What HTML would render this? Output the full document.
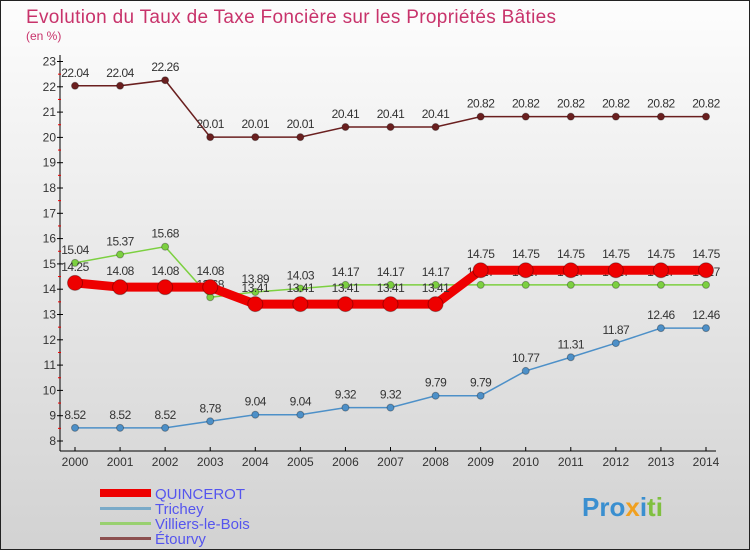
<!DOCTYPE html>
<html><head><meta charset="utf-8"><style>
body{margin:0}
svg text{font-family:"Liberation Sans",sans-serif}
</style></head><body>
<svg width="750" height="550" viewBox="0 0 750 550" xmlns="http://www.w3.org/2000/svg">
<defs><linearGradient id="bg" x1="0" y1="0" x2="0" y2="1"><stop offset="0" stop-color="#fdfdfd"/><stop offset="1" stop-color="#d2d2d2"/></linearGradient></defs>
<rect x="0.5" y="0.5" width="749" height="549" fill="url(#bg)" stroke="#222"/>
<text x="26" y="23" font-size="19" textLength="530" fill="#c8336b">Evolution du Taux de Taxe Foncière sur les Propriétés Bâties</text>
<text x="26" y="40" font-size="12" fill="#c8336b">(en %)</text>
<g id="axes"></g>
<g id="series"></g>
<g>
<rect x="100" y="489" width="51" height="8" fill="#e00"/>
<text x="155" y="499" font-size="15" fill="#5555ee">QUINCEROT</text>
<rect x="100" y="507" width="51" height="3" fill="#7aaac8"/>
<text x="155" y="514" font-size="15" fill="#5555ee">Trichey</text>
<rect x="100" y="522" width="51" height="3" fill="#99d070"/>
<text x="155" y="529" font-size="15" fill="#5555ee">Villiers-le-Bois</text>
<rect x="100" y="537" width="51" height="3" fill="#8c5050"/>
<text x="155" y="544" font-size="15" fill="#5555ee">Étourvy</text>
</g>
<text x="582" y="516" font-size="26" font-weight="bold" fill="#3a8fd0">Pro<tspan fill="#f0a020">x</tspan><tspan fill="#3a8fd0">i</tspan><tspan fill="#80c040">ti</tspan></text>
</svg>
<script>
const years=[2000,2001,2002,2003,2004,2005,2006,2007,2008,2009,2010,2011,2012,2013,2014];
const yTicks=[8,9,10,11,12,13,14,15,16,17,18,19,20,21,22,23];
const quincerot=[14.25,14.08,14.08,14.08,13.41,13.41,13.41,13.41,13.41,14.75,14.75,14.75,14.75,14.75,14.75];
const trichey=[8.52,8.52,8.52,8.78,9.04,9.04,9.32,9.32,9.79,9.79,10.77,11.31,11.87,12.46,12.46];
const villiers=[15.04,15.37,15.68,13.68,13.89,14.03,14.17,14.17,14.17,14.17,14.17,14.17,14.17,14.17,14.17];
const etourvy=[22.04,22.04,22.26,20.01,20.01,20.01,20.41,20.41,20.41,20.82,20.82,20.82,20.82,20.82,20.82];
const NS='http://www.w3.org/2000/svg';
const xs=i=>75+i*(706-75)/(years.length-1);
const ys=v=>441-(v-8)*25.3;
function mk(t,a,p){const e=document.createElementNS(NS,t);for(const k in a)e.setAttribute(k,a[k]);p.appendChild(e);return e;}
const ax=document.getElementById('axes');
let l=mk('line',{x1:60,y1:55,x2:60,y2:451,stroke:'#000'},ax);


l=mk('line',{x1:60,y1:451,x2:716,y2:451,stroke:'#000'},ax);


yTicks.forEach(v=>{
 mk('line',{x1:57,y1:ys(v),x2:63,y2:ys(v),stroke:'#000'},ax);
 if(v<23) mk('line',{x1:58,y1:ys(v+0.5),x2:61,y2:ys(v+0.5),stroke:'#e00'},ax);
 const t=mk('text',{x:56,y:ys(v)+4,'font-size':12,'text-anchor':'end',fill:'#333'},ax);t.textContent=v;
 
 
});
years.forEach((y,i)=>{
 mk('line',{x1:xs(i),y1:447,x2:xs(i),y2:451,stroke:'#000'},ax);
 const t=mk('text',{x:xs(i),y:466,'font-size':12,'text-anchor':'middle',fill:'#333'},ax);t.textContent=y;
 
 
});
const sg=document.getElementById('series');
function draw(name,vals,color,w,r,dy){
 const g=mk('g',{},sg);
 
 
 const p=mk('polyline',{points:vals.map((v,i)=>xs(i)+','+ys(v)).join(' '),fill:'none',stroke:color,'stroke-width':w},g);
 
 
 vals.forEach((v,i)=>{
  const c=mk('circle',{cx:xs(i),cy:ys(v),r:r,fill:color,stroke:'rgba(0,0,0,0.3)'},g);
  
  
  const t=mk('text',{x:xs(i),y:ys(v)-dy,'font-size':12,'text-anchor':'middle',fill:'#333','letter-spacing':'-0.5'},g);t.textContent=v.toFixed(2);
  
  
 });
}
draw('trichey',trichey,'#4d90c8',1.5,3.5,9);
draw('villiers',villiers,'#7cd040',1.5,3.5,9);
draw('quincerot',quincerot,'#ee0000',9,7.5,12);
draw('etourvy',etourvy,'#6a1f1f',1.5,3.5,9);
</script>
</body></html>
